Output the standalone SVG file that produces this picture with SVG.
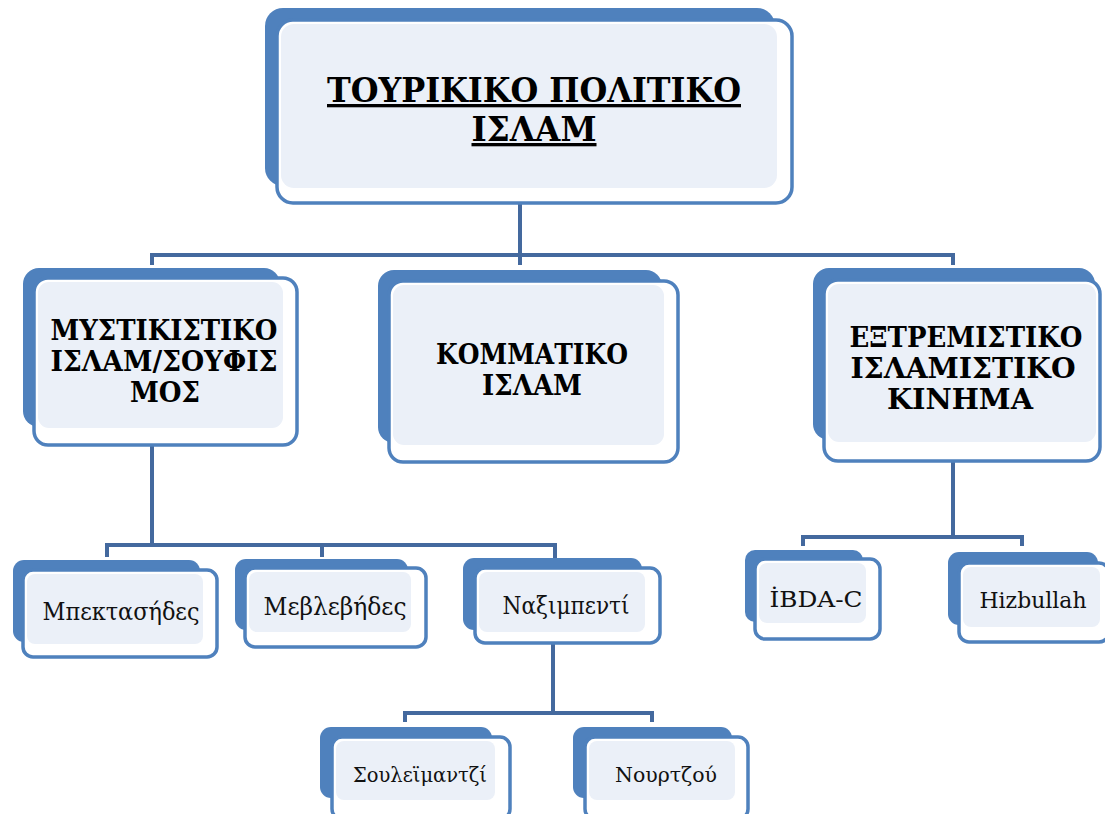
<svg xmlns="http://www.w3.org/2000/svg" width="1105" height="814" viewBox="0 0 1105 814">
<style>
.back{fill:#4f81bd}
.front{fill:#ffffff;stroke:#4f81bd;stroke-width:3.5}
.inner{fill:#ebf0f8}
.conn{fill:none;stroke:#44699e;stroke-width:4;stroke-linejoin:miter}
.tb{font-family:'DejaVu Serif Condensed','DejaVu Serif','Liberation Serif',serif;font-weight:bold;fill:#000;text-anchor:middle}
.tr{font-family:'DejaVu Serif Condensed','DejaVu Serif','Liberation Serif',serif;fill:#111;text-anchor:middle}
</style>
<rect width="1105" height="814" fill="#ffffff"/>
<g id="connectors">
<path class="conn" d="M520,196 V265"/>
<path class="conn" d="M152,265 V255 H953 V265"/>
<path class="conn" d="M152,445 V545"/>
<path class="conn" d="M107,557 V545 H555 V562"/>
<path class="conn" d="M322,545 V557"/>
<path class="conn" d="M553,643 V713"/>
<path class="conn" d="M405,722 V713 H652 V722"/>
<path class="conn" d="M953,460 V537"/>
<path class="conn" d="M803,546 V537 H1022 V546"/>
</g>
<g id="node-root">
<rect class="back" x="265" y="8" width="510" height="178" rx="18"/>
<rect class="front" x="277" y="20" width="515" height="183" rx="16"/>
<rect class="inner" x="281" y="24" width="496" height="164" rx="13"/>
<text class="tb" font-size="33" x="534" y="102" textLength="414" lengthAdjust="spacingAndGlyphs" text-decoration="underline">ΤΟΥΡΙΚΙΚΟ ΠΟΛΙΤΙΚΟ</text>
<text class="tb" font-size="33" x="534" y="141" textLength="125" lengthAdjust="spacingAndGlyphs" text-decoration="underline">ΙΣΛΑΜ</text>
</g>
<g id="node-mystikistiko">
<rect class="back" x="23" y="268" width="257" height="159" rx="16"/>
<rect class="front" x="34" y="278" width="263" height="167" rx="14"/>
<rect class="inner" x="38" y="282" width="245" height="146" rx="11"/>
<text class="tb" font-size="27" x="164" y="340" textLength="227" lengthAdjust="spacingAndGlyphs">ΜΥΣΤΙΚΙΣΤΙΚΟ</text>
<text class="tb" font-size="27" x="164" y="371" textLength="227" lengthAdjust="spacingAndGlyphs">ΙΣΛΑΜ/ΣΟΥΦΙΣ</text>
<text class="tb" font-size="27" x="165" y="402" textLength="70" lengthAdjust="spacingAndGlyphs">ΜΟΣ</text>
</g>
<g id="node-kommatiko">
<rect class="back" x="378" y="270" width="284" height="173" rx="16"/>
<rect class="front" x="389" y="281" width="289" height="181" rx="14"/>
<rect class="inner" x="393" y="285" width="271" height="160" rx="11"/>
<text class="tb" font-size="27" x="532" y="364" textLength="192" lengthAdjust="spacingAndGlyphs">ΚΟΜΜΑΤΙΚΟ</text>
<text class="tb" font-size="27" x="532" y="395" textLength="100" lengthAdjust="spacingAndGlyphs">ΙΣΛΑΜ</text>
</g>
<g id="node-extremistiko">
<rect class="back" x="813" y="268" width="282" height="172" rx="16"/>
<rect class="front" x="824" y="280" width="276" height="181" rx="14"/>
<rect class="inner" x="828" y="284" width="268" height="158" rx="11"/>
<text class="tb" font-size="27" x="966" y="347" textLength="233" lengthAdjust="spacingAndGlyphs">ΕΞΤΡΕΜΙΣΤΙΚΟ</text>
<text class="tb" font-size="27" x="963" y="378" textLength="225" lengthAdjust="spacingAndGlyphs">ΙΣΛΑΜΙΣΤΙΚΟ</text>
<text class="tb" font-size="27" x="960" y="409" textLength="146" lengthAdjust="spacingAndGlyphs">ΚΙΝΗΜΑ</text>
</g>
<g id="node-mpektasides">
<rect class="back" x="13" y="560" width="187" height="82" rx="11"/>
<rect class="front" x="23" y="570" width="194" height="87" rx="10"/>
<rect class="inner" x="27" y="574" width="176" height="70" rx="8"/>
<text class="tr" font-size="24" x="121" y="620" textLength="157" lengthAdjust="spacingAndGlyphs">Μπεκτασήδες</text>
</g>
<g id="node-mevlevides">
<rect class="back" x="235" y="559" width="173" height="71" rx="11"/>
<rect class="front" x="245" y="568" width="181" height="79" rx="10"/>
<rect class="inner" x="249" y="572" width="162" height="60" rx="8"/>
<text class="tr" font-size="24" x="335" y="615" textLength="143" lengthAdjust="spacingAndGlyphs">Μεβλεβήδες</text>
</g>
<g id="node-naksimpenti">
<rect class="back" x="463" y="558" width="179" height="72" rx="11"/>
<rect class="front" x="475" y="568" width="185" height="75" rx="10"/>
<rect class="inner" x="479" y="572" width="166" height="60" rx="8"/>
<text class="tr" font-size="24" x="566" y="614" textLength="127" lengthAdjust="spacingAndGlyphs">Ναξιμπεντί</text>
</g>
<g id="node-souleimantzi">
<rect class="back" x="320" y="727" width="172" height="71" rx="11"/>
<rect class="front" x="332" y="737" width="178" height="82" rx="10"/>
<rect class="inner" x="336" y="741" width="159" height="59" rx="8"/>
<text class="tr" font-size="21" x="420" y="782" textLength="134" lengthAdjust="spacingAndGlyphs">Σουλεϊμαντζί</text>
</g>
<g id="node-nourtzou">
<rect class="back" x="573" y="727" width="159" height="71" rx="11"/>
<rect class="front" x="585" y="737" width="163" height="82" rx="10"/>
<rect class="inner" x="589" y="741" width="146" height="59" rx="8"/>
<text class="tr" font-size="21" x="666" y="782" textLength="102" lengthAdjust="spacingAndGlyphs">Νουρτζού</text>
</g>
<g id="node-ibdac">
<rect class="back" x="745" y="550" width="118" height="72" rx="10"/>
<rect class="front" x="755" y="559" width="125" height="80" rx="10"/>
<rect class="inner" x="759" y="563" width="107" height="60" rx="8"/>
<text class="tr" font-size="23" x="816" y="607" textLength="93" lengthAdjust="spacingAndGlyphs">İBDA-C</text>
</g>
<g id="node-hizbullah">
<rect class="back" x="948" y="552" width="150" height="73" rx="11"/>
<rect class="front" x="959" y="563" width="150" height="79" rx="10"/>
<rect class="inner" x="963" y="567" width="137" height="60" rx="8"/>
<text class="tr" font-size="23" x="1033" y="608" textLength="107" lengthAdjust="spacingAndGlyphs">Hizbullah</text>
</g>
</svg>
